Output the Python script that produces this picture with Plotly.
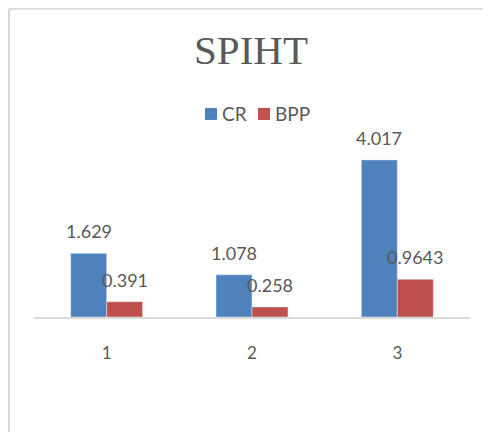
import plotly.graph_objects as go

categories = [1, 2, 3]
tick_labels = ["1", "2", "3"]
series_names = ["CR", "BPP"]
cr_values = [1.629, 1.078, 4.017]
bpp_values = [0.391, 0.258, 0.9643]
cr_labels = ["1.629", "1.078", "4.017"]
bpp_labels = ["0.391", "0.258", "0.9643"]

BLUE = "#4f81bd"
RED = "#c0504d"
TXT = "#595959"
GRID = "#d9d9d9"
FONT = "Lato, Open Sans, sans-serif"

W, H = 483, 424  # page body has an 8px margin
L, R, T, B = 26, 21, 133, 115.3
PW, PH = W - L - R, H - T - B


def px_x(p):
    return (p - L) / PW


def px_y(p):
    return (H - B - p) / PH


fig = go.Figure()
fig.add_trace(go.Bar(x=categories, y=cr_values, name=series_names[0], marker_color=BLUE,
                     hoverinfo="skip", showlegend=False))
fig.add_trace(go.Bar(x=categories, y=bpp_values, name=series_names[1], marker_color=RED,
                     hoverinfo="skip", showlegend=False))

annotations = []
for c, v, t in zip(categories, cr_values, cr_labels):
    annotations.append(dict(x=c, y=v, text=t, showarrow=False, xshift=-18, yshift=22,
                            yanchor="middle", xanchor="center",
                            font=dict(family=FONT, size=18, color=TXT)))
for c, v, t in zip(categories, bpp_values, bpp_labels):
    annotations.append(dict(x=c, y=v, text=t, showarrow=False, xshift=18, yshift=22,
                            yanchor="middle", xanchor="center",
                            font=dict(family=FONT, size=18, color=TXT)))

# manual legend (tight symbol/text spacing like the original)
legend_items = [(series_names[0], BLUE, 197), (series_names[1], RED, 250)]
shapes = []
for name, col, x0 in legend_items:
    shapes.append(dict(type="rect", xref="paper", yref="paper",
                       x0=px_x(x0), x1=px_x(x0 + 12), y0=px_y(100), y1=px_y(112),
                       fillcolor=col, line=dict(width=0)))
    annotations.append(dict(xref="paper", yref="paper", x=px_x(x0 + 15), y=px_y(106),
                            text=name, showarrow=False, xanchor="left", yanchor="middle",
                            font=dict(family=FONT, size=19, color=TXT)))

# chart area border (left and top edges visible)
shapes.append(dict(type="line", xref="paper", yref="paper", x0=px_x(1), x1=px_x(W + 20),
                   y0=px_y(1), y1=px_y(1), line=dict(color=GRID, width=2)))
shapes.append(dict(type="line", xref="paper", yref="paper", x0=px_x(1), x1=px_x(1),
                   y0=px_y(1), y1=px_y(H + 20), line=dict(color=GRID, width=2)))

fig.update_layout(
    width=W, height=H,
    margin=dict(l=L, r=R, t=T, b=B, pad=0),
    paper_bgcolor="white", plot_bgcolor="white",
    barmode="group", bargap=0.505, bargroupgap=0,
    showlegend=False,
    title=dict(text="SPIHT", x=243 / W, xanchor="center", y=1 - 42 / H, yanchor="middle",
               yref="container", font=dict(family="Liberation Serif, serif", size=41, color=TXT)),
    xaxis=dict(range=[0.5, 3.5], tickvals=categories, ticktext=tick_labels,
               showline=True, linecolor=GRID, linewidth=2, ticks="", showgrid=False,
               zeroline=False, ticklabelstandoff=20,
               tickfont=dict(family=FONT, size=17, color=TXT)),
    yaxis=dict(range=[0, 4.5], visible=False, showgrid=False, zeroline=False),
    annotations=annotations,
    shapes=shapes,
)

fig.write_html("out.html")
